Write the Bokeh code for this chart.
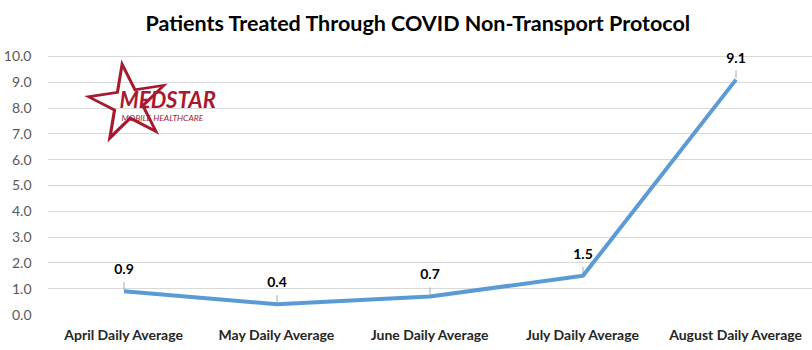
from bokeh.plotting import figure
from bokeh.models import Range1d, Label, NumeralTickFormatter, ColumnDataSource, Title
from bokeh.core.properties import value
from bokeh.embed import file_html
from bokeh.resources import INLINE

categories = ["April Daily Average", "May Daily Average", "June Daily Average",
              "July Daily Average", "August Daily Average"]
values = [0.9, 0.4, 0.7, 1.5, 9.1]
y_ticks = [0, 1, 2, 3, 4, 5, 6, 7, 8, 9, 10]
title_text = "Patients Treated Through COVID Non-Transport Protocol"

FONT = "Lato"

p = figure(x_range=categories, y_range=Range1d(0, 10.5), width=812, height=350,
           output_backend="svg", toolbar_location=None,
           min_border_left=43, min_border_right=0, min_border_top=42, min_border_bottom=36)
p.title = Title(text=title_text, align="left", offset=98, text_font=FONT, text_font_size="21.5px",
                text_font_style="bold", text_color="#000000", standoff=15)
p.outline_line_color = None
p.background_fill_color = "white"
p.border_fill_color = "white"

p.xgrid.grid_line_color = None
p.ygrid.grid_line_color = "#d9d9d9"
p.ygrid.grid_line_width = 1
p.yaxis.ticker = y_ticks
p.yaxis.formatter = NumeralTickFormatter(format="0.0")
for ax in (p.xaxis, p.yaxis):
    ax.axis_line_color = None
    ax.major_tick_line_color = None
    ax.minor_tick_line_color = None
p.yaxis.major_label_text_font = FONT
p.yaxis.major_label_text_font_size = "14px"
p.yaxis.major_label_text_color = "#595959"
p.yaxis.major_label_standoff = 10
p.xaxis.major_label_text_font = FONT
p.xaxis.major_label_text_font_size = "14px"
p.xaxis.major_label_text_font_style = "bold"
p.xaxis.major_label_text_color = "#262626"
p.xaxis.major_label_standoff = 5

src = ColumnDataSource(dict(x=categories, y=values,
                            lbl=["%.1f" % v for v in values],
                            y0=[v + 0.05 for v in values],
                            y1=[v + 0.35 for v in values]))
p.segment(x0="x", y0="y0", x1="x", y1="y1", source=src, line_color="#a6a6a6", line_width=1)
p.line(x="x", y="y", source=src, line_color="#5b9bd5", line_width=4, line_join="round")
p.text(x="x", y="y", text="lbl", source=src, text_font=value(FONT), text_font_size="14px",
       text_font_style="bold", text_color="#000000", text_align="center",
       text_baseline="bottom", y_offset=-17)

# logo (decorative), positions in screen px relative to the plot frame
p.add_layout(Label(x=80, y=214, x_units="screen", y_units="screen", text="☆",
                   text_font="DejaVu Sans", text_font_size="110px",
                   text_align="center", text_baseline="middle",
                   text_color="#a6192e", angle=0.15))
p.add_layout(Label(x=72, y=202, x_units="screen", y_units="screen", text="MEDSTAR",
                   text_font=FONT, text_font_size="22px", text_font_style="bold italic",
                   text_color="#a6192e"))
p.add_layout(Label(x=74, y=192, x_units="screen", y_units="screen", text="MOBILE HEALTHCARE",
                   text_font=FONT, text_font_size="8.5px", text_font_style="italic",
                   text_color="#a6192e"))

open("out.html", "w").write(file_html(p, INLINE))
